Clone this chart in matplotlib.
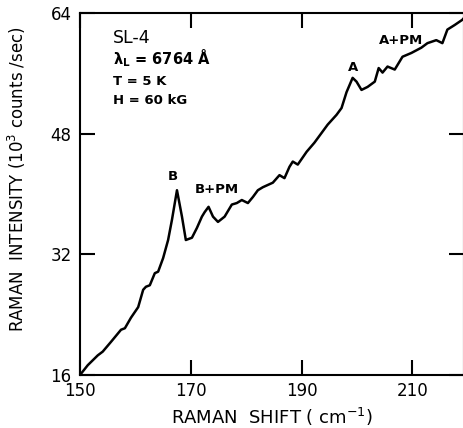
import matplotlib
matplotlib.use("Agg")
import matplotlib.pyplot as plt

# Raman shift (cm^-1) and intensity (10^3 counts/sec)
shift = [150.0, 151.4, 153.2, 154.1, 155.6, 157.4, 158.1, 159.2, 160.5, 161.4,
         161.9, 162.6, 163.5, 164.1, 165.0, 165.9, 166.6, 167.5, 168.4, 169.1,
         170.2, 171.1, 172.0, 172.5, 173.2, 174.0, 174.9, 176.1, 177.4, 178.3,
         179.2, 180.3, 181.2, 182.1, 183.0, 184.8, 186.0, 186.9, 187.8, 188.4,
         189.3, 190.9, 192.3, 193.6, 194.7, 196.3, 197.2, 198.1, 199.2, 199.9,
         200.8, 201.9, 203.2, 203.9, 204.6, 205.5, 206.8, 208.2, 209.8, 211.6,
         212.7, 214.3, 215.4, 216.3, 217.6, 219.0, 219.6]
intensity = [16.0, 17.3, 18.6, 19.1, 20.4, 22.0, 22.2, 23.6, 25.0, 27.3,
             27.7, 27.9, 29.5, 29.7, 31.5, 33.9, 36.6, 40.5, 37.0, 33.9,
             34.2, 35.5, 37.0, 37.6, 38.3, 37.0, 36.3, 37.0, 38.6, 38.8,
             39.2, 38.8, 39.6, 40.5, 40.9, 41.5, 42.5, 42.1, 43.6, 44.3,
             43.9, 45.6, 46.8, 48.1, 49.2, 50.5, 51.4, 53.5, 55.4, 54.9,
             53.8, 54.2, 54.9, 56.7, 56.1, 56.9, 56.5, 58.2, 58.7, 59.4,
             60.0, 60.4, 60.0, 61.8, 62.4, 63.1, 63.6]

xticks = [150, 170, 190, 210]
yticks = [16, 32, 48, 64]

peak_labels = ["B", "B+PM", "A", "A+PM"]
peak_x = [166.8, 174.7, 199.2, 207.9]
peak_y = [42.3, 40.6, 56.8, 60.4]

info_lines = ["SL-4", r"λ$_\mathregular{L}$ = 6764 Å", "T = 5 K", "H = 60 kG"]

fig = plt.figure(figsize=(4.64, 4.28), dpi=100)
ax = fig.add_axes([80/464, 53/428, 384/464, 362/428])
ax.plot(shift, intensity, color="black", lw=1.8)
ax.set_xlim(150, 219.3)
ax.set_ylim(16, 64)

for s in ax.spines.values():
    s.set_linewidth(1.5)

ax.set_xticks(xticks)
ax.set_yticks(yticks)
ax.set_xticklabels([str(t) for t in xticks], fontsize=12)
ax.set_yticklabels([str(t) for t in yticks], fontsize=12)
ax.tick_params(direction="in", length=11, width=1.5, top=True, right=True,
               labeltop=False, labelright=False)
ax.tick_params(axis="x", pad=5)
ax.tick_params(axis="y", pad=6)

ax.set_xlabel("RAMAN  SHIFT ( cm$^{-1}$)", fontsize=13, labelpad=4)
ax.set_ylabel("RAMAN  INTENSITY (10$^3$ counts /sec)", fontsize=12, labelpad=6)
ax.yaxis.set_label_coords(-0.135, 0.54)

for lab, px, py in zip(peak_labels, peak_x, peak_y):
    ax.text(px, py, lab, fontsize=9.5, ha="center", va="center", fontweight="bold")

ys = [0.93, 0.875, 0.81, 0.757]
sizes = [12.5, 10.5, 9.5, 9.5]
weights = ["normal", "bold", "bold", "bold"]
for t, yy, fs, w in zip(info_lines, ys, sizes, weights):
    ax.text(0.085, yy, t, transform=ax.transAxes, fontsize=fs, ha="left",
            va="center", fontweight=w)

fig.savefig("out.png", dpi=100)
